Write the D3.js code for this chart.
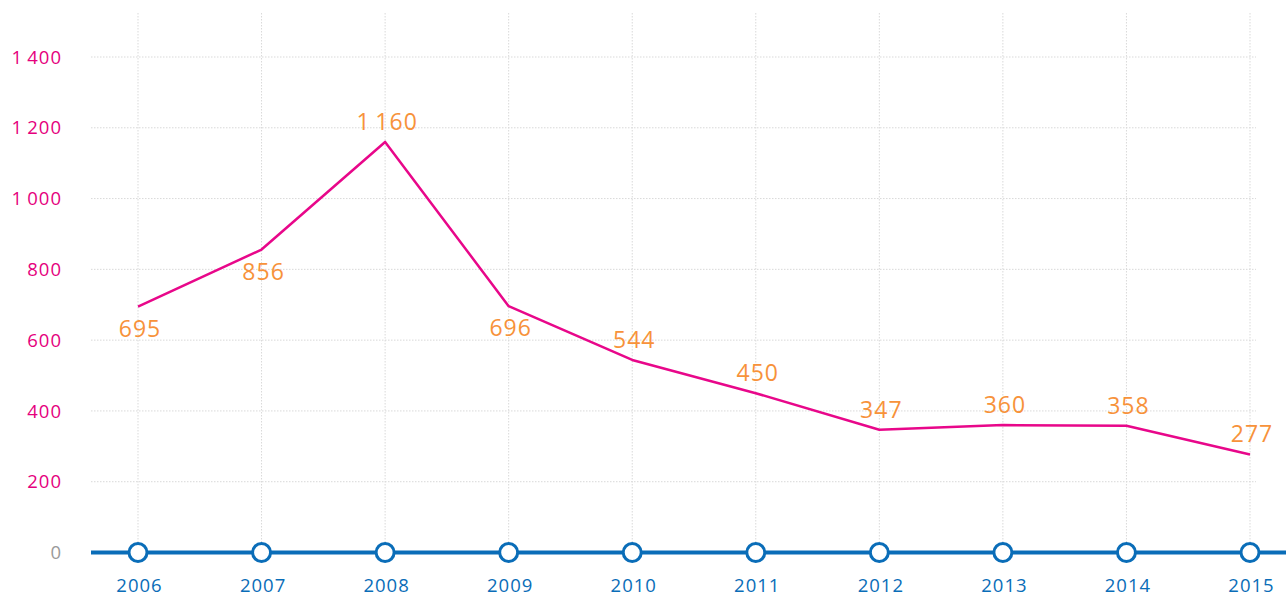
<!DOCTYPE html>
<html>
<head>
<meta charset="utf-8">
<script src="https://cdn.jsdelivr.net/npm/d3@7"></script>
<style>
  body { margin: 0; background: #fff; }
  svg { display: block; font-family: "Open Sans", Lato, sans-serif; }
  .grid line { stroke: #d9d9d9; stroke-dasharray: 1.5 1.5; }
</style>
</head>
<body>
<svg id="chart"></svg>
<script>
// chart data
const years = [2006, 2007, 2008, 2009, 2010, 2011, 2012, 2013, 2014, 2015];
const values = [695, 856, 1160, 696, 544, 450, 347, 360, 358, 277];
const labelSide = ["below", "below", "above", "below", "above", "above", "above", "above", "above", "above"];
const yTicks = [0, 200, 400, 600, 800, 1000, 1200, 1400];

const width = 1286;
const height = 596;

const svg = d3.select("#chart")
    .attr("width", width)
    .attr("height", height);

// scales
const xScale = d3.scalePoint()
    .domain(years)
    .range([138, 1250]);

const yScale = d3.scaleLinear()
    .domain([0, 1400])
    .range([552.5, 57]);

const fmt = d => d >= 1000 ? d3.format(",")(d).replace(",", "\u2009") : String(d);

// horizontal grid
svg.append("g")
    .attr("class", "grid")
    .selectAll("line")
    .data(yTicks.filter(d => d > 0))
    .enter().append("line")
    .attr("x1", 91)
    .attr("x2", 1256)
    .attr("y1", d => yScale(d))
    .attr("y2", d => yScale(d));

// vertical grid
svg.append("g")
    .attr("class", "grid")
    .selectAll("line")
    .data(years)
    .enter().append("line")
    .attr("x1", d => xScale(d))
    .attr("x2", d => xScale(d))
    .attr("y1", 13)
    .attr("y2", yScale(0));

// y axis labels
const yAxis = d3.axisLeft(yScale)
    .tickValues(yTicks)
    .tickSize(0)
    .tickPadding(0)
    .tickFormat(fmt);

const yAxisG = svg.append("g")
    .attr("transform", "translate(62,0)")
    .call(yAxis);
yAxisG.select(".domain").remove();
yAxisG.selectAll("text")
    .attr("font-family", "'Open Sans', Lato, sans-serif")
    .attr("font-size", 18.5)
    .attr("letter-spacing", 1)
    .attr("dy", "0.33em")
    .attr("fill", d => d === 0 ? "#9a9a9a" : "#e5007d");

// line
const line = d3.line()
    .x((d, i) => xScale(years[i]))
    .y(d => yScale(d));

svg.append("path")
    .datum(values)
    .attr("fill", "none")
    .attr("stroke", "#e8078a")
    .attr("stroke-width", 2.5)
    .attr("stroke-linejoin", "round")
    .attr("d", line);

// data labels
svg.append("g")
    .selectAll("text")
    .data(values)
    .enter().append("text")
    .attr("x", (d, i) => xScale(years[i]) + 2)
    .attr("y", (d, i) => labelSide[i] === "below" ? yScale(d) + 30 : yScale(d) - 12)
    .attr("text-anchor", "middle")
    .attr("font-size", 23)
    .attr("letter-spacing", 1)
    .attr("fill", "#f7923a")
    .text(d => fmt(d));

// baseline axis
svg.append("line")
    .attr("x1", 91)
    .attr("x2", width)
    .attr("y1", yScale(0))
    .attr("y2", yScale(0))
    .attr("stroke", "#0a6db8")
    .attr("stroke-width", 4);

svg.append("g")
    .selectAll("circle")
    .data(years)
    .enter().append("circle")
    .attr("cx", d => xScale(d))
    .attr("cy", yScale(0))
    .attr("r", 9)
    .attr("fill", "#fff")
    .attr("stroke", "#0a6db8")
    .attr("stroke-width", 3);

// x axis labels
const xAxis = d3.axisBottom(xScale)
    .tickSize(0)
    .tickPadding(0);

const xAxisG = svg.append("g")
    .attr("transform", "translate(1,586)")
    .call(xAxis);
xAxisG.select(".domain").remove();
xAxisG.selectAll("text")
    .attr("font-family", "'Open Sans', Lato, sans-serif")
    .attr("font-size", 18.5)
    .attr("letter-spacing", 1)
    .attr("dy", "0.33em")
    .attr("fill", "#0a6db8");
</script>
</body>
</html>
